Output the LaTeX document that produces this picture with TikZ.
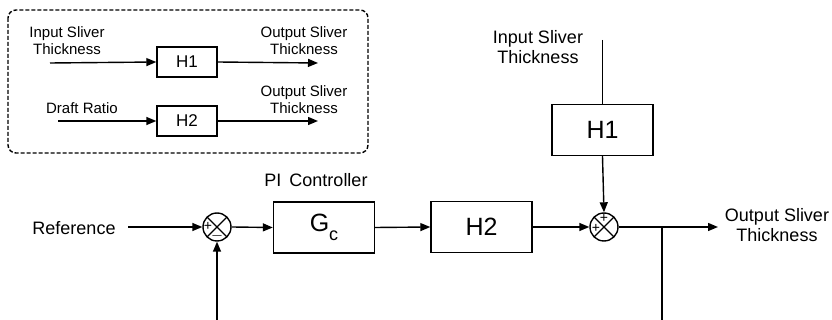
\documentclass[tikz,border=0pt]{standalone}
\usepackage{fontspec}
\setmainfont{Liberation Sans}
\usepackage{tikz}
\usetikzlibrary{arrows.meta}

\begin{document}
\begin{tikzpicture}[x=0.5pt,y=-0.5pt,>={Triangle[length=5pt,width=4pt]},line width=0.7pt,
  font=\fontsize{9}{10}\selectfont,
  blk/.style={draw,minimum width=50.5pt,minimum height=25.5pt,inner sep=0pt,font=\fontsize{12.5}{12.5}\selectfont},
  smallblk/.style={draw,minimum width=30pt,minimum height=15pt,inner sep=0pt,font=\fontsize{8.5}{8.5}\selectfont},
  lbl/.style={align=center,inner sep=0pt},
  smalllbl/.style={align=center,inner sep=0pt,font=\fontsize{7.5}{8.5}\selectfont},
  sumpt/.style={draw,circle,minimum size=14pt,inner sep=0pt,
    path picture={\draw (path picture bounding box.north west) -- (path picture bounding box.south east)
      (path picture bounding box.north east) -- (path picture bounding box.south west);}},
  sgn/.style={inner sep=0pt,font=\fontsize{7}{7}\selectfont}]
\useasboundingbox (0,0) rectangle (832,320);
% legend
\draw[dash pattern=on 2pt off 1pt,rounded corners=4pt] (8,10) rectangle (368,153);
\node[smallblk] (lh1) at (187,62) {H1};
\node[smallblk] (lh2) at (187,121) {H2};
\node[smalllbl] (lin1) at (67,41) {Input Sliver\\Thickness};
\node[smalllbl] (lout1) at (304,41) {Output Sliver\\Thickness};
\node[smalllbl] (ldr) at (82,108) {Draft Ratio};
\node[smalllbl] (lout2) at (304,100) {Output Sliver\\Thickness};
\coordinate (lin1s) at (50,63);
\coordinate (lout1e) at (318,63);
\coordinate (ldrs) at (58,121);
\coordinate (lout2e) at (318,121);
\draw[->] (lin1s) -- (lh1.west);
\draw[->] (lh1.east) -- (lout1e);
\draw[->] (ldrs) -- (lh2.west);
\draw[->] (lh2.east) -- (lout2e);
% main loop
\node[sumpt] (s1) at (217,227) {};
\node[sumpt] (s2) at (604,227) {};
\node[blk] (gc) at (324,227.5) {G\raisebox{-0.7ex}{\fontsize{9}{9}\selectfont c}};
\node[blk] (h2) at (481.5,227) {H2};
\node[blk] (h1) at (602.5,130) {H1};
\node[lbl] (ref) at (74,228) {Reference};
\node[lbl] (pi) at (316,180) {PI\, Controller};
\node[lbl] (in) at (538,47) {Input Sliver\\Thickness};
\node[lbl] (out) at (777,225) {Output Sliver\\Thickness};
\node[sgn] at (208,226) {+};
\node[sgn] at (217,236) {$-$};
\node[sgn] at (604,218) {+};
\node[sgn] at (596,228) {+};
\coordinate (refs) at (128,227);
\coordinate (ins) at (602.5,40);
\coordinate (oute) at (718,227);
\coordinate (br) at (662,227);
\coordinate (fbe) at (662,320);
\coordinate (fbs) at (217,320);
\draw[->] (refs) -- (s1.west);
\draw[->] (s1.east) -- (gc.west);
\draw[->] (gc.east) -- (h2.west);
\draw[->] (h2.east) -- (s2.west);
\draw (ins) -- (h1.north);
\draw[->] (h1.south) -- (s2.north);
\draw[->] (s2.east) -- (oute);
\draw (br) -- (fbe);
\draw[->] (fbs) -- (s1.south);
\end{tikzpicture}
\end{document}
